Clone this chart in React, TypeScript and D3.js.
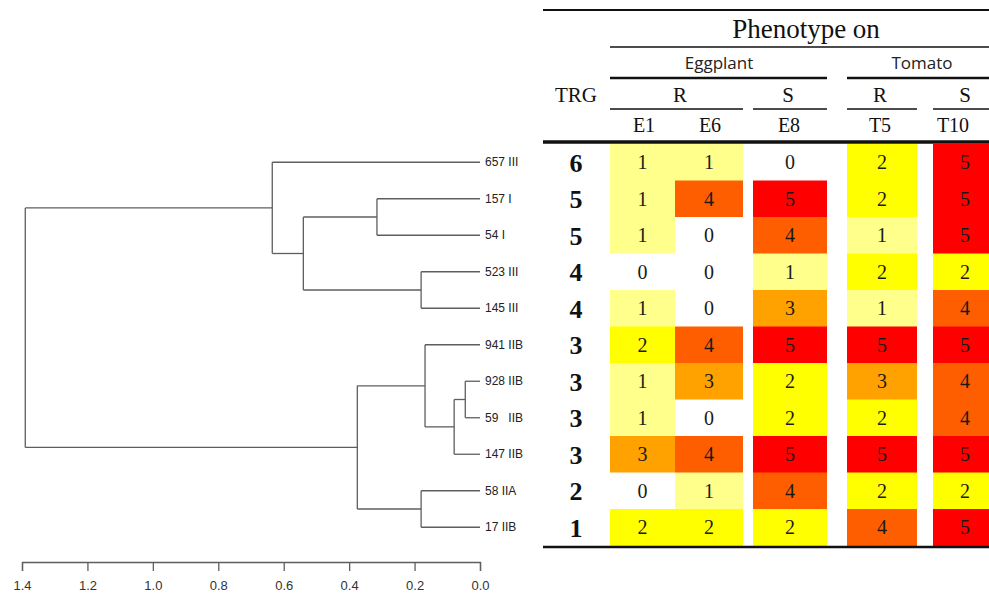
import React, { useRef, useEffect } from "react"
import * as d3 from "d3"

// strains in dendrogram order (top to bottom)
const strains = ["657 III", "157 I", "54 I", "523 III", "145 III", "941 IIB", "928 IIB", "59   IIB", "147 IIB", "58 IIA", "17 IIB"]
const trg = [6, 5, 5, 4, 4, 3, 3, 3, 3, 2, 1]

// phenotype scores
const columns = ["E1", "E6", "E8", "T5", "T10"]
const e1 = [1, 1, 1, 0, 1, 2, 1, 1, 3, 0, 2]
const e6 = [1, 4, 0, 0, 0, 4, 3, 0, 4, 1, 2]
const e8 = [0, 5, 4, 1, 3, 5, 2, 2, 5, 4, 2]
const t5 = [2, 2, 1, 2, 1, 5, 3, 2, 5, 2, 4]
const t10 = [5, 5, 5, 2, 4, 5, 4, 4, 5, 2, 5]
const scores = [e1, e6, e8, t5, t10]

const axisTicks = [1.4, 1.2, 1.0, 0.8, 0.6, 0.4, 0.2, 0.0]

// merge heights of the clustering
const tree = {
  h: 1.39, children: [
    { h: 0.635, children: [
      { name: "657 III" },
      { h: 0.54, children: [
        { h: 0.315, children: [{ name: "157 I" }, { name: "54 I" }] },
        { h: 0.18, children: [{ name: "523 III" }, { name: "145 III" }] }
      ] }
    ] },
    { h: 0.375, children: [
      { h: 0.168, children: [
        { name: "941 IIB" },
        { h: 0.079, children: [
          { h: 0.045, children: [{ name: "928 IIB" }, { name: "59   IIB" }] },
          { name: "147 IIB" }
        ] }
      ] },
      { h: 0.18, children: [{ name: "58 IIA" }, { name: "17 IIB" }] }
    ] }
  ]
}

export default function App() {
  const svgRef = useRef(null)

  useEffect(() => {
    const svg = d3.select(svgRef.current)
    svg.selectAll("*").remove()

    const y = d3.scaleBand().domain(strains).range([144, 545.5]).padding(0)
    const x = d3.scaleLinear().domain([1.4, 0]).range([22, 480])
    const color = d3.scaleOrdinal<number, string>()
      .domain([0, 1, 2, 3, 4, 5])
      .range(["#ffffff", "#ffff8c", "#ffff00", "#ffa200", "#ff5e00", "#ff0000"])

    // ---- dendrogram
    const root = d3.hierarchy(tree as any)
    const g = svg.append("g").attr("stroke", "#5e5e5e").attr("stroke-width", 1.3).attr("fill", "none")
    root.eachAfter((n: any) => {
      if (!n.children) {
        n.py = y(n.data.name) + y.bandwidth() / 2
        n.px = x(0)
      } else {
        n.py = d3.mean(n.children, (c: any) => c.py)
        n.px = x(n.data.h)
        const ys = n.children.map((c: any) => c.py)
        g.append("line").attr("x1", n.px).attr("x2", n.px).attr("y1", d3.min(ys)).attr("y2", d3.max(ys))
        n.children.forEach((c: any) => {
          g.append("line").attr("x1", n.px).attr("x2", c.px).attr("y1", c.py).attr("y2", c.py)
        })
      }
    })

    svg.append("g").selectAll("text")
      .data(strains)
      .enter().append("text")
      .attr("x", 485)
      .attr("y", d => y(d) + y.bandwidth() / 2)
      .attr("dy", "0.35em")
      .attr("font-family", "Liberation Sans, Arial, sans-serif")
      .attr("font-size", 12)
      .attr("fill", "#222")
      .style("white-space", "pre")
      .text(d => d)

    const ax = svg.append("g")
      .attr("transform", "translate(0,562)")
      .call(d3.axisBottom(x).tickValues(axisTicks).tickFormat(d3.format(".1f")).tickSize(9).tickPadding(10))
    ax.select(".domain").attr("stroke", "#5e5e5e").attr("stroke-width", 1.3)
    ax.selectAll(".tick line").attr("stroke", "#5e5e5e").attr("stroke-width", 1.3)
    ax.selectAll("text").attr("font-family", "Liberation Sans, Arial, sans-serif").attr("font-size", 13).attr("fill", "#333")

    // ---- table
    const colSpan = [[610, 675], [675, 743], [753, 827], [847, 917], [933, 1000]]
    const t = svg.append("g")
    const serif = "Liberation Serif, Times New Roman, serif"
    const sans = "Open Sans, Liberation Sans, sans-serif"

    columns.forEach((c, ci) => {
      const [a, b] = colSpan[ci]
      const col = t.append("g")
      col.selectAll("rect").data(scores[ci]).enter().append("rect")
        .attr("x", a).attr("width", b - a)
        .attr("y", (d, i) => y(strains[i]))
        .attr("height", y.bandwidth() + 0.5)
        .attr("fill", d => color(d))
      col.selectAll("text").data(scores[ci]).enter().append("text")
        .attr("x", ci === 4 ? 965 : (a + b) / 2)
        .attr("y", (d, i) => y(strains[i]) + y.bandwidth() / 2)
        .attr("dy", "0.35em")
        .attr("text-anchor", "middle")
        .attr("font-family", serif).attr("font-size", 20).attr("fill", "#1a1a1a")
        .text(d => d)
    })

    t.selectAll(".trg").data(trg).enter().append("text")
      .attr("x", 576)
      .attr("y", (d, i) => y(strains[i]) + y.bandwidth() / 2)
      .attr("dy", "0.36em")
      .attr("text-anchor", "middle")
      .attr("font-family", serif).attr("font-weight", "bold").attr("font-size", 26).attr("fill", "#111")
      .text(d => d)

    // header rules
    const rule = (x1, x2, yy, w) => t.append("line").attr("x1", x1).attr("x2", x2).attr("y1", yy).attr("y2", yy)
      .attr("stroke", "#111").attr("stroke-width", w)
    rule(543, 989, 10, 2)
    rule(610, 989, 47, 1.5)
    rule(610, 827, 78, 2.5)
    rule(847, 989, 78, 2.5)
    rule(610, 743, 109, 1.5)
    rule(753, 827, 109, 1.5)
    rule(847, 917, 109, 1.5)
    rule(933, 989, 109, 1.5)
    rule(543, 989, 142, 3.5)
    rule(543, 989, 547, 2.5)

    const label = (txt, xx, yy, size, fam, fill = "#111") => t.append("text")
      .attr("x", xx).attr("y", yy).attr("text-anchor", "middle")
      .attr("font-family", fam).attr("font-size", size).attr("fill", fill).text(txt)
    label("Phenotype on", 806, 38, 27, serif)
    label("Eggplant", 719, 69, 17, sans, "#222")
    label("Tomato", 922, 69, 17, sans, "#222")
    label("TRG", 576, 102, 21, serif)
    label("R", 680, 102, 21, serif)
    label("S", 788, 102, 21, serif)
    label("R", 880, 102, 21, serif)
    label("S", 965, 102, 21, serif)
    const headX = [644, 710, 789, 880, 953]
    columns.forEach((c, i) => label(c, headX[i], 132, 20, serif))
  }, [])

  return (
    <svg ref={svgRef} width={989} height={597}
      style={{ position: "absolute", left: 0, top: 0, background: "#fff" }}></svg>
  )
}
